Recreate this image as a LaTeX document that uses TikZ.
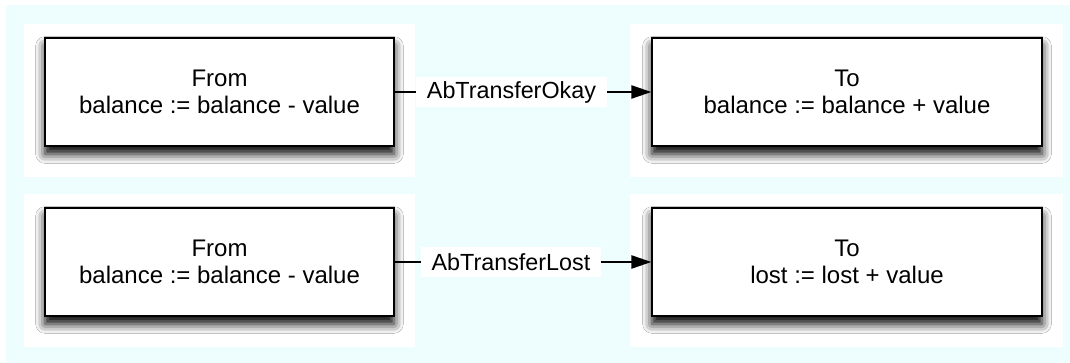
\documentclass[tikz,border=0pt]{standalone}
\usepackage{fontspec}
\setmainfont{Liberation Sans}
\usetikzlibrary{positioning, calc, arrows.meta, shadows.blur}
\usepackage{xcolor}
\definecolor{bgcyan}{RGB}{238,254,255}
\tikzset{state/.style={draw=black, line width=1.1pt, fill=white, align=center,
    font=\fontsize{18}{20.6}\selectfont, minimum height=81pt,
    blur shadow={shadow xshift=0pt, shadow yshift=-6pt, shadow blur radius=7pt, shadow opacity=100}}}
\tikzset{event/.style={fill=white, inner xsep=8pt, minimum height=21.75pt, font=\fontsize{17.5}{20}\selectfont}}
\tikzset{flow/.style={-{Triangle[length=15pt, width=10pt]}, line width=1.1pt}}

\begin{document}
\begin{tikzpicture}[x=0.75pt, y=-0.75pt]
      \useasboundingbox (0,0) rectangle (1070,363);
      \fill[bgcyan] (6,5) rectangle (1070,363);
      \fill[white] (24,24) rectangle (415,177);
      \fill[white] (630,24) rectangle (1063,177);
      \fill[white] (24,194) rectangle (415,347);
      \fill[white] (630,194) rectangle (1063,347);

      \node[state, minimum width=261.75pt] (from0) at (219.5,92) {From\\balance := balance - value};
      \node[state, minimum width=292.5pt] (to0) at (847,92) {To\\balance := balance + value};

      \node[state, minimum width=261.75pt] (from1) at (219.5,262) {From\\balance := balance - value};
      \node[state, minimum width=292.5pt] (to1) at (847,262) {To\\lost := lost + value};

      \draw[flow] (from0) -- node[event, pos=.455] (okay) {AbTransferOkay} (to0);
      \draw[flow] (from1) -- node[event, pos=.453] (lost) {AbTransferLost} (to1);

    \end{tikzpicture}
\end{document}
